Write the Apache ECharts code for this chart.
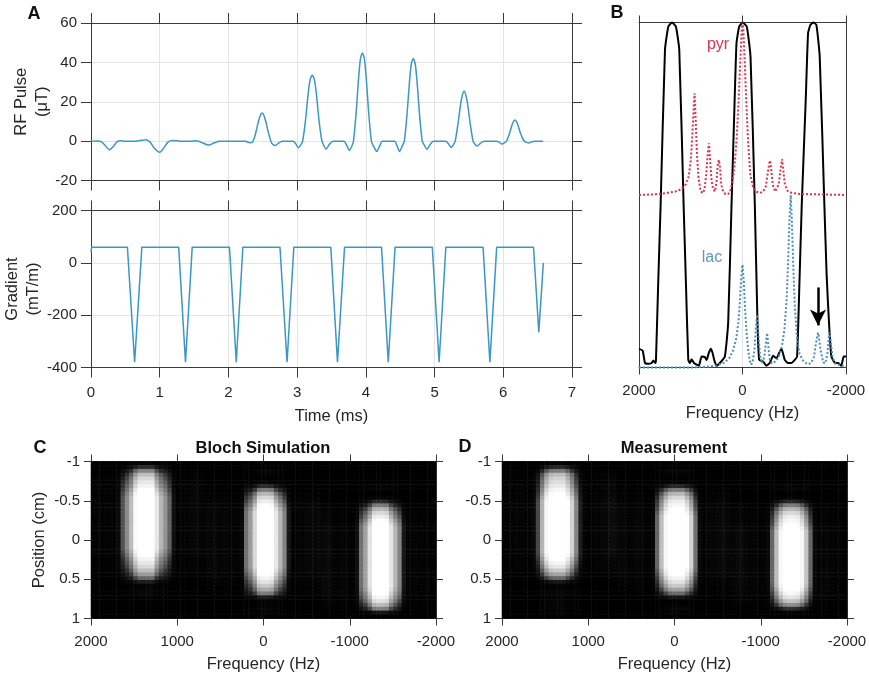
<!DOCTYPE html>
<html>
<head>
<meta charset="utf-8">
<style>html,body{margin:0;padding:0;background:#fff}#c{width:869px;height:678px}</style>
<script src="https://cdn.jsdelivr.net/npm/echarts@6/dist/echarts.min.js"></script>
</head>
<body>
<div id="c"></div>
<script>
const rfPulse = [[0,0],[.1,.1],[.15,-.3],[.2,-2],[.27,-4.4],[.33,-2.5],[.38,-.3],[.43,.2],[.5,0],[.65,0],[.74,.4],[.8,.7],[.86,-.5],[.92,-3.5],[1,-5.7],[1.06,-3.5],[1.12,-.5],[1.19,.3],[1.3,0],[1.45,0],[1.52,.2],[1.6,-.5],[1.71,-2],[1.8,-.8],[1.87,-.1],[2,0],
[2.17,0],[2.25,-.1],[2.31,-.8],[2.35,-.4],[2.38,2],[2.41,6],[2.44,10.5],[2.47,13.5],[2.49,14.3],[2.51,13.5],[2.54,10.5],[2.57,6],[2.6,2],[2.63,-1],[2.68,-2.2],[2.73,-1],[2.78,0],
[2.94,0],[2.98,-1.4],[3.02,-3.4],[3.06,-1.5],[3.08,0],[3.12,10],[3.16,24],[3.19,31.4],[3.22,33.4],[3.25,31.4],[3.28,24],[3.32,10],[3.36,0],[3.38,-1.6],[3.42,-4],[3.47,-1.6],[3.52,0],
[3.68,0],[3.72,-2],[3.76,-4.7],[3.8,-2.2],[3.82,0],[3.86,15],[3.89,30],[3.92,41.5],[3.95,44.8],[3.98,41.5],[4.01,30],[4.04,15],[4.08,0],[4.11,-2.5],[4.16,-5.2],[4.2,-2.5],[4.24,0],
[4.42,0],[4.45,-2],[4.49,-5.2],[4.53,-2.4],[4.56,0],[4.6,14],[4.63,28],[4.66,39],[4.69,42],[4.72,39],[4.75,28],[4.78,14],[4.82,0],[4.85,-2],[4.89,-4.2],[4.93,-2],[4.98,0],
[5.16,0],[5.2,-1.2],[5.24,-3.2],[5.28,-1.4],[5.3,0],[5.34,8.5],[5.38,19],[5.41,24],[5.43,25.5],[5.45,24],[5.48,19],[5.52,8.5],[5.56,0],[5.58,-1.2],[5.62,-2.5],[5.67,-1],[5.72,0],
[5.9,0],[5.94,-.5],[5.98,-1.5],[6.02,-.8],[6.05,.2],[6.09,4],[6.13,8.5],[6.15,10],[6.17,10.7],[6.19,10],[6.21,8.5],[6.25,4],[6.3,.2],[6.33,-.5],[6.37,-1],[6.41,-.4],[6.45,0],[6.58,0]];

const gradient = [[0,40],[.01,60],[.53,60],[.635,-380],[.74,60],[1.276,60],[1.375,-380],[1.473,60],[2.015,60],[2.114,-380],[2.21,60],[2.75,60],[2.853,-380],[2.952,60],[3.49,60],[3.587,-380],[3.69,60],[4.228,60],[4.326,-380],[4.425,60],[4.967,60],[5.066,-380],[5.164,60],[5.706,60],[5.805,-380],[5.904,60],[6.44,60],[6.517,-265],[6.583,0]];

const filterProfile = [[2000,.054],[1929,.049],[1884,.013],[1820,.011],[1756,.013],[1723,.02],[1685,.013],[1672,.022],[1627,.254],[1582,.472],[1498,.921],[1434,.988],[1363,1],[1286,.988],[1222,.921],[1138,.472],[1093,.244],[1048,.022],[1016,.013],[984,.024],[939,.013],[887,.008],[842,.005],[791,.032],[727,.03],[694,.022],[649,.043],[611,.054],[578,.042],[547,.022],[502,.005],[437,.013],[341,.032],[277,.129],[212,.472],[161,.728],[116,.94],[64,.988],[0,1],[-83,.988],[-155,.901],[-238,.472],[-290,.129],[-322,.022],[-399,.017],[-463,.005],[-527,.013],[-592,.034],[-656,.027],[-708,.042],[-753,.054],[-817,.022],[-881,.013],[-945,.013],[-1010,.022],[-1055,.032],[-1100,.244],[-1145,.472],[-1222,.776],[-1267,.969],[-1312,.993],[-1370,1],[-1428,.993],[-1492,.901],[-1582,.472],[-1627,.264],[-1672,.129],[-1717,.032],[-1782,.014],[-1846,.013],[-1910,.005],[-1955,.032],[-2000,.032]];

const pyrSpectrum = [[2000,.5],[1700,.502],[1500,.505],[1300,.51],[1200,.516],[1100,.53],[1040,.553],[1000,.6],[970,.67],[945,.75],[926,.795],[905,.72],[880,.62],[850,.55],[810,.512],[772,.505],[735,.515],[700,.56],[675,.615],[650,.65],[625,.6],[600,.545],[570,.518],[534,.51],[505,.535],[480,.585],[457,.602],[435,.58],[410,.53],[375,.51],[330,.503],[276,.503],[230,.515],[190,.54],[150,.59],[110,.67],[70,.79],[40,.9],[15,.98],[0,1],[-15,.98],[-40,.9],[-70,.78],[-110,.65],[-150,.56],[-200,.525],[-260,.51],[-340,.506],[-400,.51],[-450,.525],[-490,.565],[-515,.59],[-534,.6],[-555,.575],[-585,.53],[-630,.51],[-665,.512],[-700,.53],[-735,.575],[-765,.604],[-790,.57],[-820,.53],[-870,.512],[-950,.506],[-1100,.503],[-1400,.502],[-2000,.5]];

const lacSpectrum = [[2000,0],[1000,0],[700,.002],[500,.006],[350,.014],[250,.028],[180,.05],[120,.085],[80,.13],[50,.19],[25,.26],[0,.298],[-25,.25],[-50,.17],[-80,.1],[-110,.05],[-140,.02],[-170,.008],[-200,.02],[-230,.05],[-255,.11],[-283,.153],[-310,.09],[-340,.035],[-380,.012],[-420,.03],[-450,.07],[-476,.1],[-500,.06],[-530,.02],[-570,.012],[-640,.018],[-700,.03],[-760,.06],[-810,.11],[-850,.19],[-880,.3],[-905,.42],[-932,.5],[-955,.42],[-980,.3],[-1010,.18],[-1050,.09],[-1100,.04],[-1170,.02],[-1250,.01],[-1320,.012],[-1380,.03],[-1420,.07],[-1445,.09],[-1460,.101],[-1475,.09],[-1510,.05],[-1560,.015],[-1600,.012],[-1640,.04],[-1670,.09],[-1685,.101],[-1700,.08],[-1740,.03],[-1800,.01],[-2000,.003]];

// Brightness across frequency (2000 to -2000 Hz, 50 Hz steps)
const simColumn = [.02,.03,.02,.03,.03,.02,.06,.22,.34,.48,
 .78,1,1,1,1,.65,.46,.36,.24,.08,
 .015,.02,.03,.04,.05,.04,.03,.05,.05,.04,
 .03,.04,.03,.03,.02,.06,.28,.38,.58,.95,
 1,1,.95,.65,.46,.32,.1,.02,.03,.03,
 .04,.05,.05,.06,.05,.06,.04,.03,.03,.03,
 .02,.02,.08,.28,.4,.62,.95,1,1,.95,
 .65,.46,.32,.1,.03,.02,.03,.02,.02,.015,.01];
const measColumn = [.02,.03,.02,.04,.03,.02,.02,.06,.2,.45,
 .75,.95,1,1,1,.8,.55,.32,.12,.03,
 .015,.02,.03,.04,.05,.07,.07,.05,.04,.03,
 .03,.04,.04,.03,.02,.05,.25,.48,.75,.95,
 1,1,1,.8,.55,.27,.06,.02,.03,.04,
 .05,.06,.06,.04,.04,.06,.06,.04,.03,.03,
 .02,.03,.06,.25,.48,.75,.95,1,1,.95,
 .75,.5,.25,.06,.03,.03,.04,.03,.02,.015,.01];

// Brightness along position (-1 to 1 cm, 0.05 cm steps) for each of the three bands
const simLeft = [.03,.15,.32,.48,.58,.65,.72,.82,.92,1, 1,1,1,1,1,1,1,1,1,1, 1,1,1,.92,.82,.72,.65,.58,.48,.38, .25,.12,.03,.04,.05,.02,0,0,0,0,0];
const simMid = [0,.02,.05,.03,0,.04,.15,.3,.46,.58, .68,.8,.92,1,1,1,1,1,1,1, 1,1,1,1,1,1,1,1,.92,.82, .72,.62,.52,.42,.3,.12,.02,.02,.05,.03,0];
const simRight = [0,0,0,0,0,0,.03,.03,0,.04, .15,.3,.46,.58,.68,.8,.92,1,1,1, 1,1,1,1,1,1,1,1,1,1, 1,1,1,.94,.84,.74,.62,.48,.32,.1,0];
const measLeft = [.02,.14,.3,.48,.55,.6,.66,.74,.82,.92, 1,1,1,1,1,1,1,1,1,1, 1,1,1,1,.94,.84,.74,.64,.52,.4, .25,.1,.02,.03,.04,.03,.03,.04,.04,.03,0];
const measMid = [0,.02,.05,.03,0,.03,.14,.3,.46,.58, .68,.75,.82,.92,1,1,1,1,1,1, 1,1,1,1,1,1,1,1,.92,.82, .72,.62,.52,.4,.26,.1,.01,.02,.05,.03,0];
const measRight = [0,0,0,0,0,0,.03,.04,.01,.03, .14,.3,.46,.58,.68,.75,.82,.92,1,1, 1,1,1,1,1,1,1,1,1,1, 1,1,.96,.87,.75,.63,.5,.35,.16,.03,0];

const freqCells = simColumn.map((_, i) => String(2000 - 50 * i));
const posCells = simLeft.map((_, j) => (-1 + 0.05 * j).toFixed(2));

function imageCells(column, left, mid, right) {
  const out = [];
  column.forEach((c, i) => {
    const row = i <= 26 ? left : (i <= 53 ? mid : right);
    row.forEach((r, j) => out.push([i, j, c * r]));
  });
  return out;
}

const FONT = '"Liberation Sans", Arial, Helvetica, sans-serif';
const INK = '#262626', LINE = '#3a3a3a', GRID = '#e4e4e4';
const grids = [], xAxes = [], yAxes = [];

function panel(box, xc, yc) {
  const gridIndex = grids.length;
  grids.push({ left: box[0], top: box[1], width: box[2], height: box[3], containLabel: false, outerBoundsMode: 'none' });
  const lab = { show: true, color: INK, fontFamily: FONT, fontSize: 15, formatter: v => String(v), hideOverlap: false, showMinLabel: true, showMaxLabel: true };
  const nameStyle = { color: INK, fontFamily: FONT, fontSize: 16.5, lineHeight: 21 };
  const line = { show: true, onZero: false, lineStyle: { color: LINE, width: 1 } };
  const tk = n => n ? { show: true, inside: false, length: n, lineStyle: { color: LINE, width: 1 } } : { show: false };
  const split = s => ({ show: !!s, lineStyle: { color: GRID, width: 1 } });
  const xi = xAxes.length, yi = yAxes.length;
  const xBase = { type: 'value', gridIndex, min: xc.min, max: xc.max, interval: xc.interval, inverse: !!xc.inverse, axisLine: line, axisTick: tk(xc.tick) };
  xAxes.push(Object.assign({}, xBase, {
    position: 'bottom', splitLine: split(xc.grid),
    axisLabel: Object.assign({}, lab, { show: xc.labels !== false, margin: xc.margin }),
    name: xc.name || '', nameLocation: 'middle', nameGap: xc.nameGap, nameTextStyle: nameStyle, nameMoveOverlap: false
  }));
  xAxes.push(Object.assign({}, xBase, { position: 'top', splitLine: { show: false }, axisLabel: { show: false } }));
  const yBase = { type: 'value', gridIndex, min: yc.min, max: yc.max, interval: yc.interval, inverse: !!yc.inverse, axisLine: line, axisTick: tk(yc.tick) };
  yAxes.push(Object.assign({}, yBase, {
    position: 'left', splitLine: split(yc.grid),
    axisLabel: Object.assign({}, lab, { show: yc.labels !== false, margin: yc.margin }),
    name: yc.name || '', nameLocation: 'middle', nameGap: yc.nameGap, nameRotate: 90, nameTextStyle: nameStyle, nameMoveOverlap: false
  }));
  yAxes.push(Object.assign({}, yBase, { position: 'right', splitLine: { show: false }, axisLabel: { show: false } }));
  return { xi, yi, gridIndex };
}

function imagePanel(box, yName) {
  const p = panel(box,
    { min: -2000, max: 2000, interval: 1000, inverse: true, tick: 7, margin: 16, name: 'Frequency (Hz)', nameGap: 35 },
    { min: -1, max: 1, interval: 0.5, inverse: true, tick: 7, margin: 11, name: yName, nameGap: 41 });
  const cx = xAxes.length, cy = yAxes.length;
  xAxes.push({ type: 'category', show: false, gridIndex: p.gridIndex, position: 'bottom', data: freqCells, boundaryGap: true });
  yAxes.push({ type: 'category', show: false, gridIndex: p.gridIndex, position: 'left', data: posCells, inverse: true, boundaryGap: true });
  p.cx = cx; p.cy = cy;
  return p;
}

const a1 = panel([91, 23, 481, 157.5],
  { min: 0, max: 7, interval: 1, tick: 10, labels: false, grid: true },
  { min: -20, max: 60, interval: 20, tick: 10, margin: 14, grid: true, name: 'RF Pulse\n(μT)', nameGap: 38 });
const a2 = panel([91, 210.5, 481, 157],
  { min: 0, max: 7, interval: 1, tick: 10, margin: 18, grid: true, name: 'Time (ms)', nameGap: 38 },
  { min: -400, max: 200, interval: 200, tick: 10, margin: 14, grid: true, name: 'Gradient\n(mT/m)', nameGap: 47 });
const b = panel([639, 22.5, 207, 345],
  { min: -2000, max: 2000, interval: 2000, inverse: true, tick: 7, margin: 16, grid: true, name: 'Frequency (Hz)', nameGap: 35 },
  { min: 0, max: 1, interval: 1, tick: 0, labels: false });
const c = imagePanel([91, 461.5, 345, 157], 'Position (cm)');
const d = imagePanel([502, 461.5, 345, 157], '');

const lineSeries = (p, data, color, width, extra) => Object.assign({
  type: 'line', xAxisIndex: p.xi, yAxisIndex: p.yi, data, showSymbol: false, silent: true,
  lineStyle: { color, width }, itemStyle: { color }, clip: false, animation: false
}, extra || {});
const heat = (p, data) => ({
  type: 'heatmap', xAxisIndex: p.cx, yAxisIndex: p.cy, data, silent: true,
  progressive: 0, animation: false, itemStyle: { borderWidth: 0 }, emphasis: { disabled: true }
});

const centred = (t, x, y, size, weight, color) => ({
  type: 'text', x, y,
  style: { text: t, x: 0, y: 0, fontFamily: FONT, fontSize: size, fontWeight: weight, fill: color, align: 'center', verticalAlign: 'middle' }
});

const chart = echarts.init(document.getElementById('c'), null, { renderer: 'canvas' });
chart.setOption({
  backgroundColor: '#ffffff',
  animation: false,
  grid: grids,
  xAxis: xAxes,
  yAxis: yAxes,
  visualMap: { show: false, type: 'continuous', min: 0, max: 1, dimension: 2, seriesIndex: [5, 6],
    inRange: { color: ['#000000', '#090909', '#1e1e1e', '#3f3f3f', '#666666', '#808080', '#999999', '#afafaf', '#c4c4c4', '#d5d5d5', '#e4e4e4', '#efefef', '#f8f8f8', '#ffffff', '#ffffff', '#ffffff', '#ffffff'] } },
  series: [
    lineSeries(a1, rfPulse, '#3b97c6', 1.5, { smooth: 0.25 }),
    lineSeries(a2, gradient, '#3b97c6', 1.5),
    lineSeries(b, pyrSpectrum, '#d8344f', 2, { lineStyle: { color: '#d8344f', width: 2, type: [2, 2] }, z: 3 }),
    lineSeries(b, lacSpectrum, '#4a8fbd', 2, { lineStyle: { color: '#4a8fbd', width: 2, type: [2, 2] }, z: 3 }),
    lineSeries(b, filterProfile, '#000000', 2, { z: 2, smooth: 0.15,
      markLine: {
        silent: true, animation: false, symbol: ['none', 'arrow'], symbolSize: [12, 16],
        lineStyle: { color: '#000', width: 2.5, type: 'solid' }, label: { show: false },
        data: [[{ coord: [-1460, .232] }, { coord: [-1460, .122] }]]
      } }),
    heat(c, imageCells(simColumn, simLeft, simMid, simRight)),
    heat(d, imageCells(measColumn, measLeft, measMid, measRight))
  ],
  graphic: [
    centred('A', 34, 14, 18, 'bold', '#111'),
    centred('B', 617, 13, 18, 'bold', '#111'),
    centred('C', 40, 448, 18, 'bold', '#111'),
    centred('D', 465, 447, 18, 'bold', '#111'),
    centred('Bloch Simulation', 263, 448.5, 16.5, 'bold', '#111'),
    centred('Measurement', 674, 448.5, 16.5, 'bold', '#111'),
    centred('pyr', 718, 45, 16, 'normal', '#d8344f'),
    centred('lac', 712, 258, 16, 'normal', '#5b97c2')
  ]
});
</script>
</body>
</html>
